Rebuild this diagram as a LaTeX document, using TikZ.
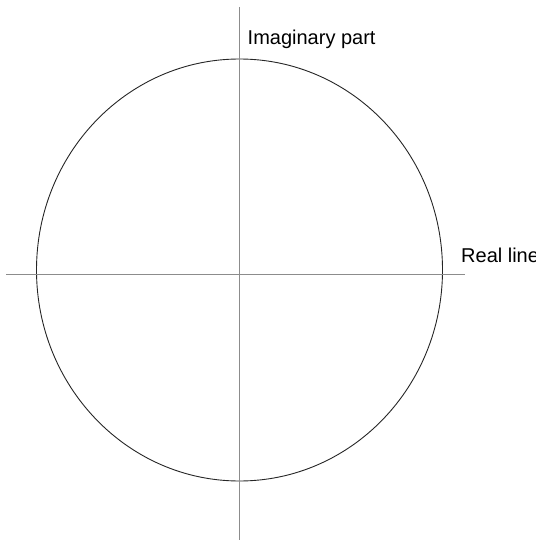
\documentclass[tikz,border=0pt]{standalone}
\usepackage{fontspec}
\setmainfont{Liberation Sans}
\begin{document}
\begin{tikzpicture}[x=1pt,y=-1pt,
  axis/.style={draw=black!45,line width=1.1pt},
  circ/.style={draw=black!85,line width=0.9pt},
  lab/.style={font=\fontsize{20}{23}\selectfont,inner sep=0pt,anchor=base west}]
\useasboundingbox (0,0) rectangle (535,540);
\clip (0,0) rectangle (535,540);
\coordinate (c) at (239.5,270);
\coordinate (xl) at (6,274.5);
\coordinate (xr) at (465,274.5);
\coordinate (yt) at (239.5,7);
\coordinate (yb) at (239.5,540);
\draw[circ] (c) ellipse [x radius=203, y radius=-211];
\draw[axis] (xl) -- (xr);
\draw[axis] (yt) -- (yb);
\node[lab] (im) at (247.5,45) {Imaginary part};
\node[lab] (re) at (461,262) {Real line};
\end{tikzpicture}
\end{document}
